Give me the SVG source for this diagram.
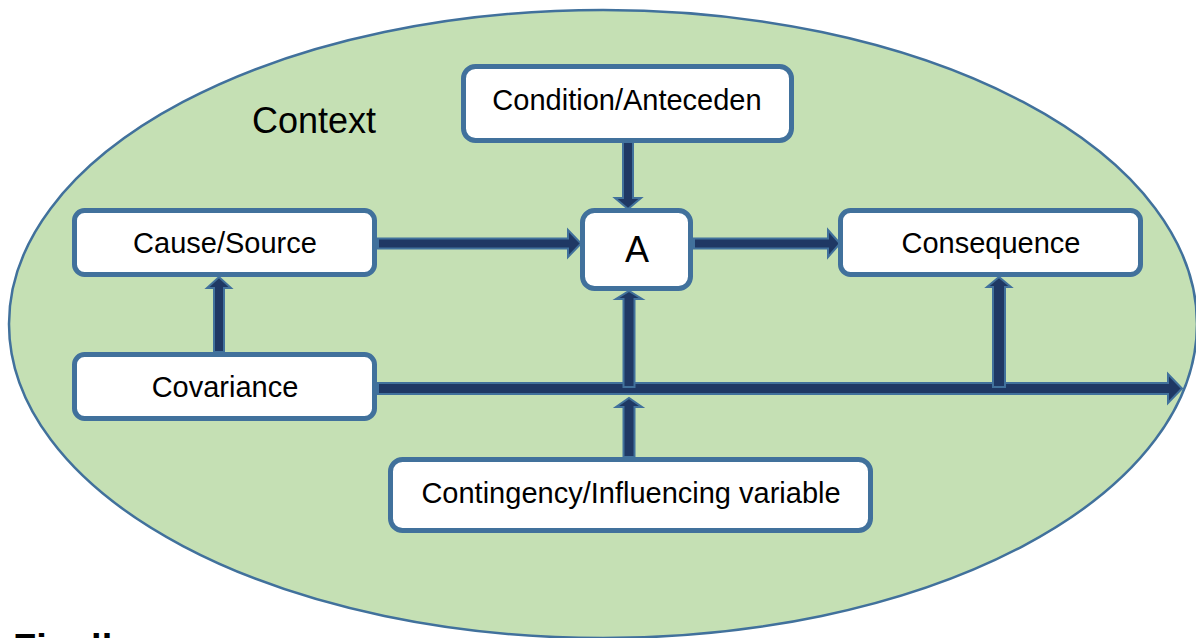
<svg xmlns="http://www.w3.org/2000/svg" width="1196" height="638" viewBox="0 0 1196 638">
<style>
.bg{fill:#C5E0B4;stroke:#41719C;stroke-width:2.5}
.box{fill:#FFFFFF;stroke:#41719C;stroke-width:5}
.arr{fill:#1F3864;stroke:#41719C;stroke-width:2;stroke-linejoin:miter}
.lbl{font-family:"Liberation Sans",Arial,sans-serif;font-size:29px;fill:#000;text-anchor:middle}
</style>
<rect width="1196" height="638" fill="#FFFFFF"/>
<ellipse class="bg" cx="603" cy="324" rx="594" ry="314"/>
<text x="314" y="133" font-family="Liberation Sans, Arial, sans-serif" font-size="36" fill="#000" text-anchor="middle">Context</text>
<g id="connectors">
  <polygon class="arr" points="378,383 1168,383 1168,374 1182,388.5 1168,403 1168,394 378,394"/>
  <polygon class="arr" points="623,141 633,141 633,198 641,198 628,209 615,198 623,198"/>
  <polygon class="arr" points="378,238.5 568,238.5 568,230 581,243.5 568,257 568,248.5 378,248.5"/>
  <polygon class="arr" points="694,238.5 828,238.5 828,230 840,243.5 828,257 828,248.5 694,248.5"/>
  <polygon class="arr" points="214,352 214,288 207,288 219,277 231,288 224,288 224,352"/>
  <polygon class="arr" points="623.5,387 623.5,299 616,299 629,291 642,299 634.5,299 634.5,387"/>
  <polygon class="arr" points="993,387 993,287 987,287 999,277 1011,287 1005,287 1005,387"/>
  <polygon class="arr" points="623.5,457 623.5,407 616,407 629,398 642,407 634.5,407 634.5,457"/>
</g>
<g id="node-condition">
  <rect class="box" x="463.5" y="66.5" width="328" height="74" rx="12"/>
  <text class="lbl" x="627" y="110">Condition/Anteceden</text>
</g>
<g id="node-cause">
  <rect class="box" x="74.5" y="210.5" width="300" height="64" rx="10"/>
  <text class="lbl" x="225" y="253">Cause/Source</text>
</g>
<g id="node-a">
  <rect class="box" x="582.5" y="210.5" width="108" height="78" rx="12"/>
  <text x="637" y="262" font-family="Liberation Sans, Arial, sans-serif" font-size="36" fill="#000" text-anchor="middle">A</text>
</g>
<g id="node-consequence">
  <rect class="box" x="840.5" y="210.5" width="300" height="64" rx="10"/>
  <text class="lbl" x="991" y="253">Consequence</text>
</g>
<g id="node-covariance">
  <rect class="box" x="74.5" y="354.5" width="300" height="64" rx="10"/>
  <text class="lbl" x="225" y="397">Covariance</text>
</g>
<g id="node-contingency">
  <rect class="box" x="390.5" y="459.5" width="480" height="71" rx="12"/>
  <text class="lbl" x="631" y="503">Contingency/Influencing variable</text>
</g>
<text x="13" y="661" font-family="Liberation Sans, Arial, sans-serif" font-size="38" font-weight="bold" fill="#000">Finally</text>
</svg>
